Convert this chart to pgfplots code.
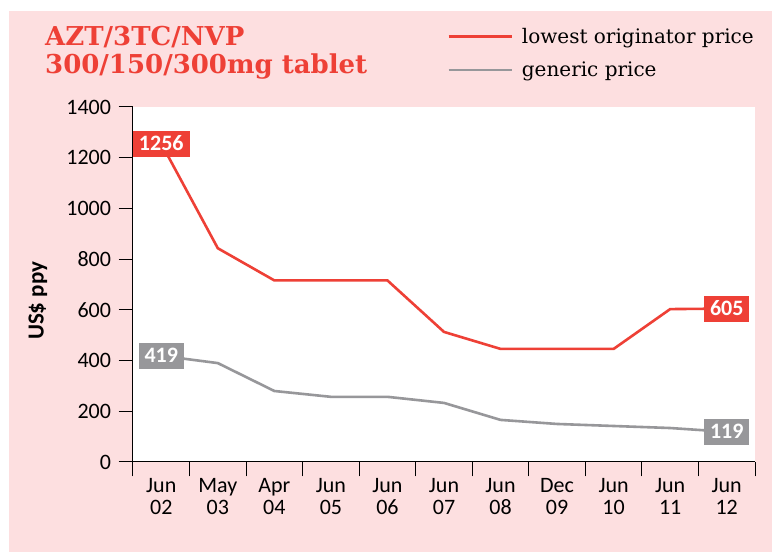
\documentclass[border=0pt]{standalone}
\usepackage{fontspec}
\setmainfont{DejaVu Serif}
\newfontfamily\tickfont{Carlito}
\usepackage{pgfplots}
\pgfplotsset{compat=1.18}
\definecolor{bgpink}{HTML}{FDDFE0}
\definecolor{origred}{HTML}{EE4036}
\definecolor{genGray}{HTML}{97979A}

\begin{document}
\begin{tikzpicture}[x=1pt,y=1pt]
\useasboundingbox (0,0) rectangle (772,552);
\fill[bgpink] (9,0) rectangle (772,541);
\node[anchor=north west, align=left, text=origred, inner sep=0,
  font=\fontsize{26}{28}\selectfont\bfseries] at (45,526)
  {AZT/3TC/NVP\\300/150/300mg tablet};
\begin{axis}[
  at={(133pt,90pt)}, anchor=south west,
  scale only axis, width=622pt, height=355pt,
  xmin=-0.5, xmax=10.5, ymin=0, ymax=1400,
  clip=false,
  axis background/.style={fill=white},
  axis x line*=bottom, axis y line*=left,
  axis line style={black, line width=1pt},
  every tick/.style={black, line width=1pt},
  tick align=outside, major tick length=14.5pt,
  ytick={0,200,...,1400},
  xtick={-0.5,0.5,...,10.5},
  x tick label as interval,
  xticklabels={{Jun\\02},{May\\03},{Apr\\04},{Jun\\05},{Jun\\06},{Jun\\07},{Jun\\08},{Dec\\09},{Jun\\10},{Jun\\11},{Jun\\12}},
  xticklabel style={align=center, font=\tickfont\fontsize{22}{22}\selectfont, yshift=2pt},
  yticklabel style={font=\tickfont\fontsize{22}{22}\selectfont, xshift=-4pt},
  /pgf/number format/assume math mode=true,
  /pgf/number format/1000 sep={},
  ylabel={US\$ ppy},
  ylabel style={font=\tickfont\fontsize{23}{23}\selectfont\bfseries, at={(axis description cs:-0.153,0.454)}, anchor=center, rotate=0},
  legend style={at={(axis description cs:0.505,1.228)}, anchor=north west, draw=none, fill=none,
    font=\fontsize{20}{20}\selectfont, row sep=13pt, inner sep=0pt},
  legend cell align=left,
  legend image code/.code={\draw[#1] (0pt,0pt) -- (63pt,0pt); \path (70pt,0pt);},
]
\addplot[origred, line width=2.6pt] coordinates {
  (0,1256) (1,843) (2,716) (3,716) (4,716) (5,513) (6,446) (7,446) (8,446) (9,603) (10,605)};
\addlegendentry{lowest originator price}
\addplot[genGray, line width=2.6pt] coordinates {
  (0,419) (1,390) (2,280) (3,257) (4,257) (5,233) (6,166) (7,150) (8,142) (9,134) (10,119)};
\addlegendentry{generic price}
\addplot[draw=none, mark=none, forget plot, nodes near coords, point meta=explicit symbolic,
  nodes near coords style={fill=origred, text=white, anchor=center, inner xsep=6pt, inner ysep=6pt,
    text height=14pt, text depth=0pt, font=\tickfont\fontsize{22}{22}\selectfont\bfseries}]
  coordinates {(0,1256) [1256] (10,605) [605]};
\addplot[draw=none, mark=none, forget plot, nodes near coords, point meta=explicit symbolic,
  nodes near coords style={fill=genGray, text=white, anchor=center, inner xsep=6pt, inner ysep=6pt,
    text height=14pt, text depth=0pt, font=\tickfont\fontsize{22}{22}\selectfont\bfseries}]
  coordinates {(0,419) [419] (10,119) [119]};
\end{axis}
\end{tikzpicture}
\end{document}
